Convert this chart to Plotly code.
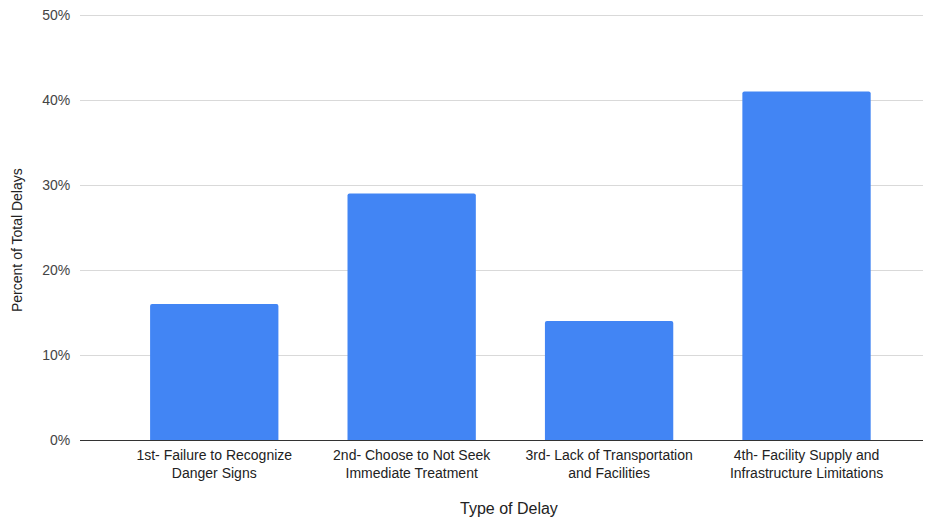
import plotly.graph_objects as go

categories = [
    "1st- Failure to Recognize<br>Danger Signs",
    "2nd- Choose to Not Seek<br>Immediate Treatment",
    "3rd- Lack of Transportation<br>and Facilities",
    "4th- Facility Supply and<br>Infrastructure Limitations",
]
values = [0.16, 0.29, 0.14, 0.41]
y_ticks = [0, 0.1, 0.2, 0.3, 0.4, 0.5]
y_tick_labels = ["0%", "10%", "20%", "30%", "40%", "50%"]

fig = go.Figure(go.Bar(
    x=list(range(len(categories))),
    y=values,
    marker=dict(color="#4285F4", cornerradius=2, line=dict(width=0)),
))

fig.update_layout(
    width=925, height=520,
    margin=dict(l=80, r=2, t=13, b=80),
    paper_bgcolor="white", plot_bgcolor="white",
    bargap=0.35,
    showlegend=False,
    font=dict(family="Liberation Sans, Arial, sans-serif", color="#222"),
    xaxis=dict(
        tickmode="array",
        tickvals=list(range(len(categories))),
        ticktext=categories,
        range=[-0.68, 3.59],
        showgrid=False, zeroline=False, showline=False,
        ticks="outside", ticklen=2, tickcolor="rgba(0,0,0,0)",
        tickfont=dict(size=14, color="#222"),
        automargin=False,
    ),
    yaxis=dict(
        range=[0, 0.5 * 427 / 425],
        tickmode="array",
        tickvals=y_ticks,
        ticktext=y_tick_labels,
        showgrid=True, gridcolor="#d9d9d9", gridwidth=1,
        zeroline=True, zerolinecolor="#333", zerolinewidth=1,
        showline=False, ticks="outside", ticklen=6, tickcolor="rgba(0,0,0,0)",
        tickfont=dict(size=14, color="#444"),
        automargin=False,
    ),
    annotations=[
        dict(text="Type of Delay", xref="paper", yref="paper",
             x=(509 - 80) / 843, y=-(508 - 440) / 427,
             xanchor="center", yanchor="middle", showarrow=False,
             font=dict(size=16, color="#222")),
        dict(text="Percent of Total Delays", xref="paper", yref="paper",
             x=-(80 - 17) / 843, y=(440 - 240) / 427, textangle=-90,
             xanchor="center", yanchor="middle", showarrow=False,
             font=dict(size=14, color="#222")),
    ],
)

fig.write_html("out.html", config={"displayModeBar": False},
               post_script="document.body.style.margin='0';")
